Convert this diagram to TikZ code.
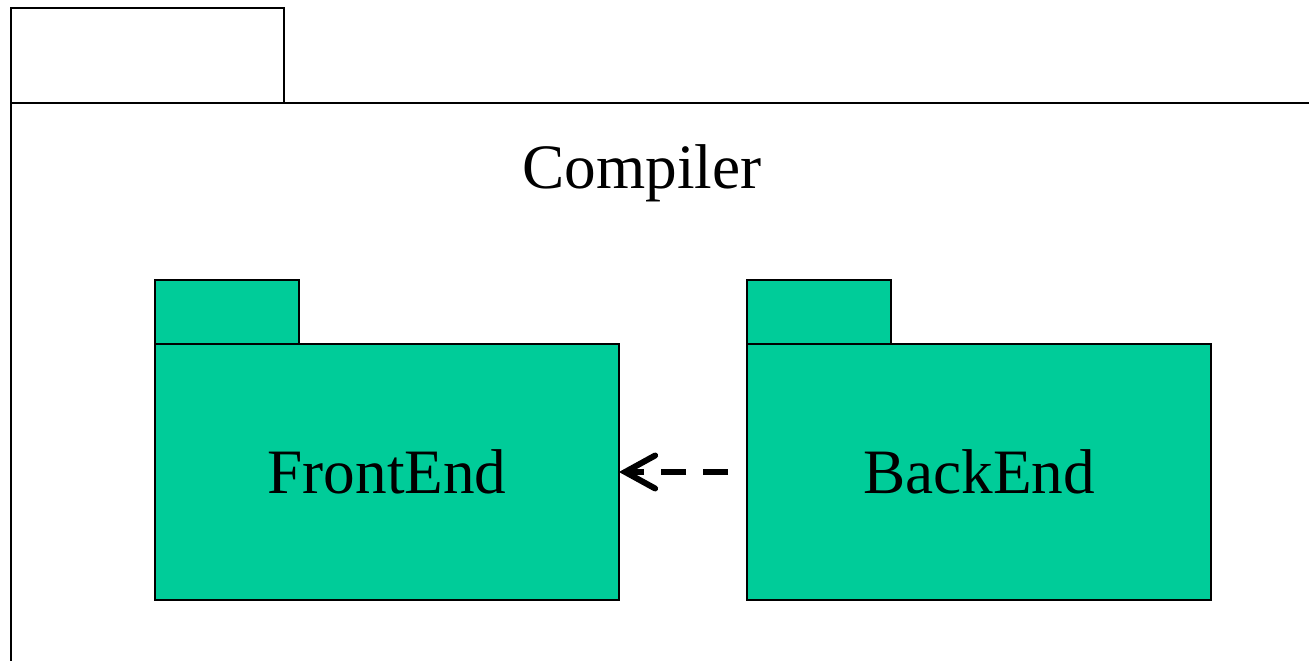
\documentclass[tikz,border=0pt]{standalone}
\usepackage{fontspec}
\setmainfont{Liberation Serif}
\usetikzlibrary{arrows.meta,positioning}
\definecolor{pkgfill}{HTML}{00CC99}

\begin{document}
\begin{tikzpicture}[
      x=0.02cm, y=-0.02cm,
      line width=1.1pt,
      every node/.style={font=\fontsize{36}{43}\selectfont},
      tab/.style={rectangle, draw, inner sep=0pt, outer sep=0pt, anchor=south west},
      pkg/.style={rectangle, draw, fill=pkgfill, inner sep=0pt, outer sep=0pt, minimum width=9.28cm, minimum height=5.12cm},
      pkgtab/.style={tab, fill=pkgfill, minimum width=2.88cm, minimum height=1.28cm},
      dep/.style={draw, line width=3.4pt, dash pattern=on 0.5cm off 0.34cm, -{Straight Barb[length=0.6cm, width=0.66cm, line cap=round]}}
    ]
    \useasboundingbox (0,0) rectangle (1309,661);
    % Outer package
    \node [tab, minimum width=5.46cm, minimum height=1.9cm] (outertab) at (11,103) {};
    \draw (11,661) -- (outertab.south west) -- (1309,103);
    \node [anchor=base] (compiler) at (642,189) {Compiler};
    % Packages
    \node [pkg] (frontend) at (387,472) {FrontEnd};
    \node [pkgtab] (fronttab) at (frontend.north west) {};
    \node [pkg] (backend) at (979,472) {BackEnd};
    \node [pkgtab] (backtab) at (backend.north west) {};
    % Dependency
    \path [dep, shorten <=0.38cm] (backend) -- (frontend);
  \end{tikzpicture}
\end{document}
